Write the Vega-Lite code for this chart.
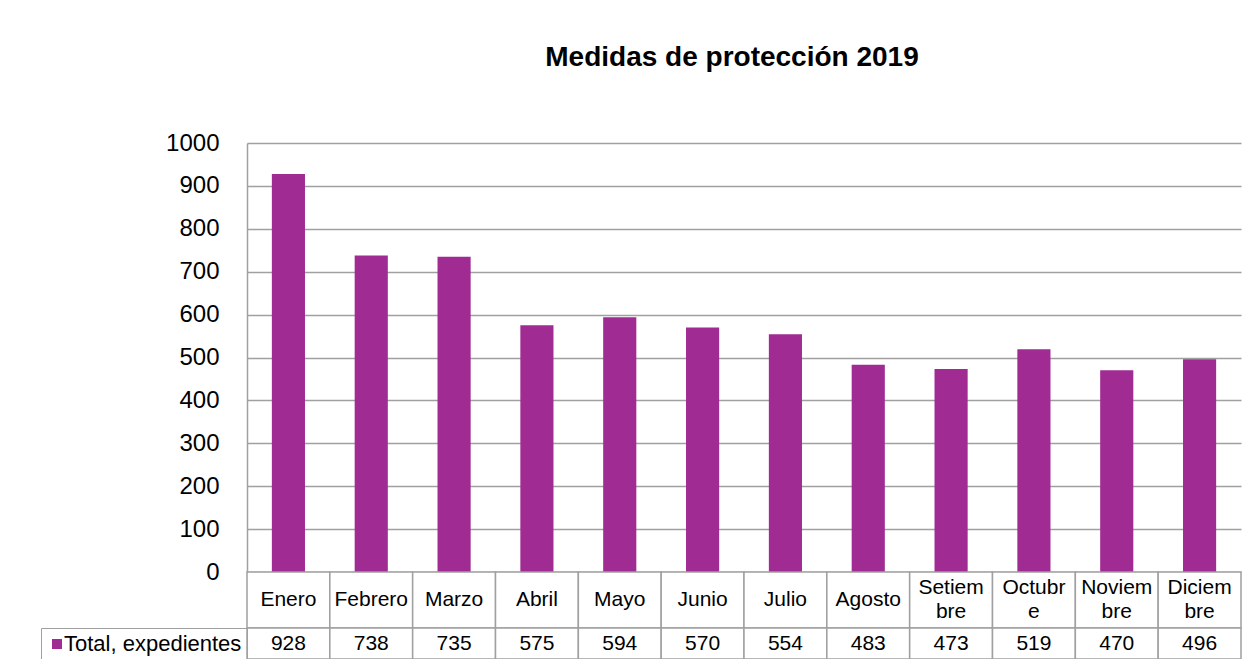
{
  "$schema": "https://vega.github.io/schema/vega-lite/v6.json",
  "background": "white",
  "padding": {"left": 40, "top": 44, "right": 13, "bottom": 0},
  "title": {"text": "Medidas de protección 2019", "font": "Liberation Sans", "fontSize": 28, "fontWeight": "bold", "color": "black", "anchor": "middle", "frame": "group", "offset": 59, "dx": -12},
  "datasets": {
    "meses": [
      {"mes": "Enero", "etiqueta": "Enero", "total": 928, "serie": "Total, expedientes"},
      {"mes": "Febrero", "etiqueta": "Febrero", "total": 738, "serie": "Total, expedientes"},
      {"mes": "Marzo", "etiqueta": "Marzo", "total": 735, "serie": "Total, expedientes"},
      {"mes": "Abril", "etiqueta": "Abril", "total": 575, "serie": "Total, expedientes"},
      {"mes": "Mayo", "etiqueta": "Mayo", "total": 594, "serie": "Total, expedientes"},
      {"mes": "Junio", "etiqueta": "Junio", "total": 570, "serie": "Total, expedientes"},
      {"mes": "Julio", "etiqueta": "Julio", "total": 554, "serie": "Total, expedientes"},
      {"mes": "Agosto", "etiqueta": "Agosto", "total": 483, "serie": "Total, expedientes"},
      {"mes": "Setiembre", "etiqueta": "Setiem\nbre", "total": 473, "serie": "Total, expedientes"},
      {"mes": "Octubre", "etiqueta": "Octubr\ne", "total": 519, "serie": "Total, expedientes"},
      {"mes": "Noviembre", "etiqueta": "Noviem\nbre", "total": 470, "serie": "Total, expedientes"},
      {"mes": "Diciembre", "etiqueta": "Diciem\nbre", "total": 496, "serie": "Total, expedientes"}
    ]
  },
  "data": {"name": "meses"},
  "spacing": 0,
  "bounds": "flush",
  "resolve": {"scale": {"x": "independent"}, "legend": {"color": "independent"}},
  "config": {"view": {"stroke": null}, "font": "Liberation Sans"},
  "vconcat": [
    {
      "width": 994,
      "height": 429,
      "mark": {"type": "bar", "color": "#A02B93"},
      "encoding": {
        "x": {"field": "mes", "type": "nominal", "sort": null, "scale": {"paddingInner": 0.6, "paddingOuter": 0.3}, "axis": null},
        "y": {
          "field": "total", "type": "quantitative",
          "scale": {"domain": [0, 1000], "nice": false},
          "axis": {"values": [0, 100, 200, 300, 400, 500, 600, 700, 800, 900, 1000], "format": "d", "title": null, "grid": true, "gridColor": "#A0A0A0", "gridWidth": 1.5, "domainColor": "#A0A0A0", "domainWidth": 1.5, "ticks": false, "labelFontSize": 24, "labelColor": "black", "labelPadding": 28, "labelFont": "Liberation Sans"}
        }
      }
    },
    {
      "width": 994,
      "height": 56,
      "layer": [
        {
          "mark": {"type": "rect", "fill": "white", "stroke": "#A0A0A0", "strokeWidth": 1.5},
          "encoding": {"x": {"field": "mes", "type": "nominal", "sort": null, "scale": {"paddingInner": 0, "paddingOuter": 0}, "axis": null}}
        },
        {
          "transform": [{"filter": "indexof(datum.etiqueta, '\\n') < 0"}],
          "mark": {"type": "text", "fontSize": 21, "color": "black", "baseline": "middle", "font": "Liberation Sans"},
          "encoding": {"x": {"field": "mes", "type": "nominal", "sort": null, "axis": null}, "text": {"field": "etiqueta"}}
        },
        {
          "transform": [{"filter": "indexof(datum.etiqueta, '\\n') >= 0"}],
          "mark": {"type": "text", "fontSize": 21, "lineBreak": "\n", "lineHeight": 24, "dy": -12, "color": "black", "baseline": "middle", "font": "Liberation Sans"},
          "encoding": {"x": {"field": "mes", "type": "nominal", "sort": null, "axis": null}, "text": {"field": "etiqueta"}}
        }
      ]
    },
    {
      "width": 994,
      "height": 31,
      "layer": [
        {
          "mark": {"type": "rect", "fill": "white", "stroke": "#A0A0A0", "strokeWidth": 1.5},
          "encoding": {"x": {"field": "mes", "type": "nominal", "sort": null, "scale": {"paddingInner": 0, "paddingOuter": 0}, "axis": null}}
        },
        {
          "mark": {"type": "text", "fontSize": 21, "color": "black", "baseline": "middle", "font": "Liberation Sans"},
          "encoding": {"x": {"field": "mes", "type": "nominal", "sort": null, "axis": null}, "text": {"field": "total"}}
        },
        {
          "mark": {"type": "point", "shape": "square", "filled": true, "size": 0, "opacity": 1},
          "encoding": {
            "color": {
              "field": "serie", "type": "nominal",
              "scale": {"range": ["#A02B93"]},
              "legend": {"title": null, "orient": "left", "offset": 0, "symbolType": "square", "symbolSize": 100, "symbolStrokeWidth": 0, "symbolOpacity": 1, "symbolOffset": 0, "labelFontSize": 22, "labelColor": "black", "labelFont": "Liberation Sans", "labelOffset": -4, "labelLimit": 400, "padding": 5, "strokeColor": "#A0A0A0"}
            }
          }
        }
      ]
    }
  ]
}
